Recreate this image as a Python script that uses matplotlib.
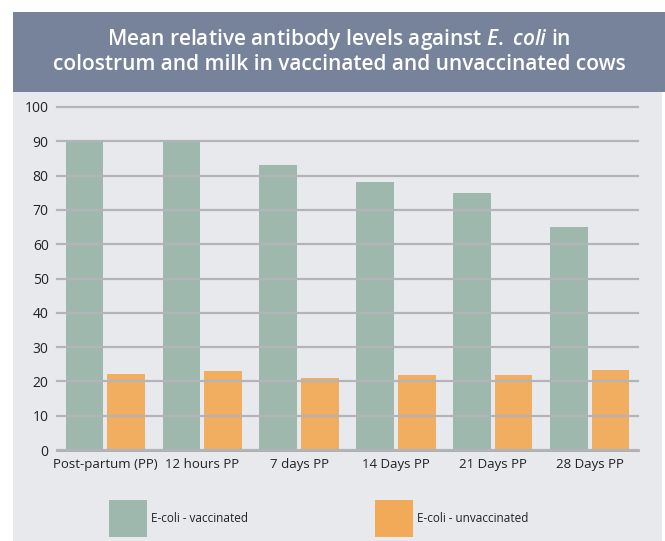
import numpy as np
import matplotlib
matplotlib.use('Agg')
import matplotlib.pyplot as plt
from matplotlib.patches import Rectangle

# ── Data ────────────────────────────────────────────────────────────────
categories = ['Post-partum (PP)', '12 hours PP', '7 days PP',
              '14 Days PP', '21 Days PP', '28 Days PP']
vaccinated = [90, 90, 83, 78, 75, 65]
unvaccinated = [22.3, 22.9, 21.1, 22.0, 22.0, 23.2]
series_names = ['E-coli - vaccinated', 'E-coli - unvaccinated']
yticks = [0, 10, 20, 30, 40, 50, 60, 70, 80, 90, 100]

green = '#9fb8ae'
orange = '#f2aa58'
banner = '#77839a'
panel = '#e8e9ed'
grid_c = '#b3b4b8'

plt.rcParams['mathtext.fontset'] = 'custom'
plt.rcParams['mathtext.it'] = 'Open Sans:italic:semibold'
plt.rcParams['mathtext.rm'] = 'Open Sans:semibold'

W, H = 665, 541
fig = plt.figure(figsize=(W / 100, H / 100), dpi=100, facecolor='white')

def px_rect(x0, y0, x1, y1, color):
    # rectangle given in pixel coords (origin top-left)
    fig.add_artist(Rectangle((x0 / W, 1 - y1 / H), (x1 - x0) / W, (y1 - y0) / H,
                             transform=fig.transFigure, facecolor=color,
                             edgecolor='none', zorder=0))

px_rect(13, 92, 662, 541, panel)
px_rect(13, 12, 665, 92, banner)

fig.text(0.5 * (13 + 665) / W, 1 - 51 / H,
         'Mean relative antibody levels against $\\mathit{E.}$ $\\mathit{coli}$ in\n'
         'colostrum and milk in vaccinated and unvaccinated cows',
         ha='center', va='center', color='white', fontsize=15,
         fontweight='semibold', family='Open Sans', linespacing=1.15)

ax = fig.add_axes([57 / W, 91 / H, 581 / W, 343 / H])
ax.set_facecolor('none')
x = np.arange(len(categories))
bw = 0.39
ax.bar(x - 0.215, vaccinated, width=bw, color=green, zorder=1)
ax.bar(x + 0.215, unvaccinated, width=bw, color=orange, alpha=0.95, zorder=1)

ax.set_xlim(-0.5, len(categories) - 0.5)
ax.set_ylim(0, 100)
ax.set_yticks(yticks)
ax.yaxis.grid(True, color=grid_c, linewidth=1.6, zorder=2)
for gl in ax.get_ygridlines():
    gl.set_clip_on(False)
ax.set_axisbelow(False)
for s in ['top', 'right', 'left']:
    ax.spines[s].set_visible(False)
ax.spines['bottom'].set_color('#9c9ca0')
ax.spines['bottom'].set_linewidth(1.8)
ax.tick_params(axis='y', length=0, pad=6, labelsize=10, labelcolor='#222222')
ax.tick_params(axis='x', length=0, pad=6, labelsize=9.5, labelcolor='#222222')
ax.set_xticks(x)
ax.set_xticklabels(categories)
for lab in ax.get_xticklabels() + ax.get_yticklabels():
    lab.set_family('Open Sans')

# legend boxes drawn by hand
leg = [(109, series_names[0], green), (375, series_names[1], orange)]
for x0, name, col in leg:
    px_rect(x0, 500, x0 + 38, 537, col)
    fig.text((x0 + 42) / W, 1 - 518 / H, name, ha='left', va='center',
             fontsize=8.5, color='#222222', family='Open Sans')

fig.savefig('out.png', dpi=100, facecolor='white')
